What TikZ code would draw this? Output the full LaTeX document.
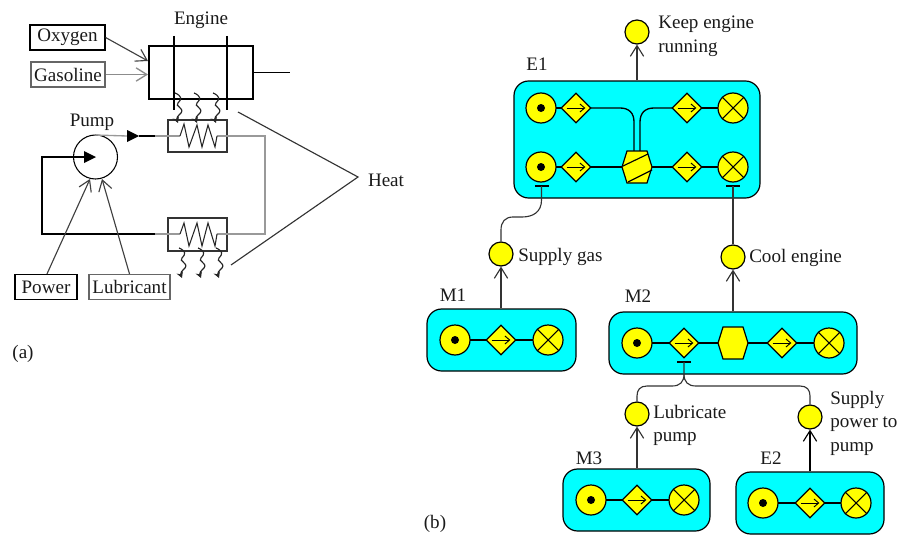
\documentclass[tikz,border=0pt]{standalone}
\usepackage{fontspec}
\setmainfont{Liberation Serif}
\usetikzlibrary{arrows.meta,shapes.geometric}
\definecolor{txt}{HTML}{1A1A1A}
\definecolor{pipegray}{HTML}{999999}
\definecolor{fbox}{HTML}{00FFFF}
\definecolor{fyel}{HTML}{FFFF00}
\tikzset{
  lab/.style={inner sep=0pt,text=txt,yshift=-1.1pt,font=\fontsize{14.3pt}{16pt}\selectfont},
  leftlab/.style={lab,anchor=west,align=left,font=\fontsize{14.3pt}{17.6pt}\selectfont},
  resbox/.style={draw=#1,line width=.9pt,inner sep=0pt,minimum height=25*0.75pt,lab,yshift=1.1pt},
  resbox/.default=black,
  ln/.style={line width=.85pt,draw=black},
  lnk/.style={line width=1pt,draw=black},
  pipe/.style={line width=1pt,draw=pipegray},
  barb/.style={-{Straight Barb[length=8pt,width=10pt]}},
  funcbox/.style={draw=black,line width=.9pt,fill=fbox,rounded corners=11pt,inner sep=0pt},
  goalc/.style={circle,draw=black,line width=.9pt,fill=fyel,minimum size=24*0.75pt,inner sep=0pt},
  portc/.style={circle,draw=black,line width=.9pt,fill=fyel,minimum size=30*0.75pt,inner sep=0pt},
  dotc/.style={circle,fill=black,minimum size=8*0.75pt,inner sep=0pt},
  diac/.style={diamond,draw=black,line width=.9pt,fill=fyel,minimum size=30*0.75pt,inner sep=0pt},
  hexc/.style={minimum size=30*0.75pt,inner sep=0pt},
  hexpath/.style={draw=black,line width=.9pt,fill=fyel},
  hxbox/.style={draw=black!80,line width=.8pt,inner sep=0pt,minimum width=59*0.75pt,minimum height=32*0.75pt},
  engbox/.style={draw=black,line width=.9pt,inner sep=0pt,minimum width=104*0.75pt,minimum height=53*0.75pt},
  pumpc/.style={circle,draw=black,line width=.8pt,minimum size=44*0.75pt,inner sep=0pt},
  wavy/.style={line width=.85pt,draw=black!85,-{Stealth[length=4.5pt,width=5pt]}},
  tbar/.style={line width=.9pt,draw=black},
  ctl/.style={line width=.85pt,draw=black!80}
}
\newcommand{\srcp}[3]{\node[portc] (#1) at (#2,#3) {}; \node[dotc] (#1-d) at (#2,#3) {};}
\newcommand{\diap}[3]{\node[diac] (#1) at (#2,#3) {}; \draw[line width=.7pt,-{Straight Barb[length=3.5pt,width=6pt]}] ([xshift=-7pt]#1.center) -- ([xshift=7pt]#1.center);}
\newcommand{\snkp}[3]{\node[portc] (#1) at (#2,#3) {}; \draw[line width=.8pt] (#1.45) -- (#1.225) (#1.135) -- (#1.315);}
\newcommand{\hexp}[3]{\node[hexc] (#1) at (#2,#3) {}; \draw[hexpath] (#2-10,#3-16) -- (#2+10,#3-16) -- (#2+15,#3) -- (#2+10,#3+16) -- (#2-10,#3+16) -- (#2-15,#3) -- cycle;}
\newcommand{\wav}[2]{\draw[wavy] (#1,#2) .. controls (#1+7,#2+3) and (#1+7,#2+6) .. (#1+3,#2+10) .. controls (#1-1,#2+13) and (#1+10,#2+15) .. (#1+6,#2+20) .. controls (#1+3,#2+23) and (#1+1,#2+25) .. (#1+3,#2+30);}
\begin{document}
\begin{tikzpicture}[x=0.75pt,y=-0.75pt]
\useasboundingbox (0,0) rectangle (902,535);
% ---------- (a) ----------
\node[engbox] (engine) at (201,72.5) {};
\node[lab] (englab) at (201,19) {Engine};
\coordinate (rodAt) at (174,36); \coordinate (rodAb) at (174,110);
\coordinate (rodBt) at (227,36); \coordinate (rodBb) at (227,110);
\draw[ln,line width=.9pt] (rodAt) -- (rodAb);
\draw[ln,line width=.9pt] (rodBt) -- (rodBb);
\coordinate (shaft) at (290,72.5);
\draw[ln] (engine.east) -- (shaft);
\node[resbox,minimum width=75*0.75pt] (oxy) at (67.5,37.5) {Oxygen};
\node[resbox=black!60,minimum width=74*0.75pt] (gas) at (68,74.5) {Gasoline};
\coordinate (oxyin) at (148,61); \coordinate (gasin) at (148,74.5);
\draw[ln,barb,draw=black!75] (oxy.east) -- (oxyin);
\draw[pipe,barb,draw=black!45] (gas.east) -- (gasin);
\node[hxbox] (hxa) at (197.5,136) {};
\node[hxbox,minimum height=33*0.75pt] (hxb) at (197.5,234.5) {};
\node[pumpc] (pump) at (95.5,157) {};
\node[lab] (pumplab) at (92,121) {Pump};
\coordinate (ptop) at (95,135);
\coordinate (rt) at (265,136); \coordinate (rb) at (265,234);
\coordinate (za) at (217,136); \coordinate (zb) at (217,234);
\coordinate (za0) at (180,136); \coordinate (zb0) at (180,234);
\draw[pipe] (ptop) -- (127,136);
\draw[pipe] (155,136) -- (za0);
\draw[ln] (139,136) -- (155,136);
\fill (127,130) -- (139,136) -- (127,142) -- cycle;
\draw[pipe] (za) -- (rt) -- (rb) -- (zb);
\draw[pipe] (zb0) -- (155,234);
\coordinate (pl) at (42,234); \coordinate (pu) at (42,157);
\draw[ln] (155,234) -- (pl) -- (pu) -- (84,157);
\fill (84,151) -- (96,157) -- (84,163) -- cycle;
\draw[line width=.8pt,draw=black!85] (za0) -- (184,124) -- (189,147) -- (197,125) -- (202,147) -- (208,125) -- (215,147) -- (za);
\draw[line width=.8pt,draw=black!85] (zb0) -- (184,223) -- (189,246) -- (197,223) -- (202,246) -- (208,223) -- (215,246) -- (zb);
\wav{175}{93}\wav{194}{93}\wav{213}{93}
\wav{179}{248}\wav{198}{248}\wav{216}{248}
\node[resbox,minimum width=62*0.75pt] (power) at (46,287) {Power};
\node[resbox=black!60,minimum width=81*0.75pt] (lub) at (129.5,287) {Lubricant};
\coordinate (pwt) at (90,179); \coordinate (lbt) at (102,179);
\draw[ln,barb,draw=black!75] ([xshift=0.75pt]power.north) -- (pwt);
\draw[ln,barb,draw=black!75] (lub.north) -- (lbt);
\node[lab] (heat) at (386,179) {Heat};
\coordinate (hj) at (358,177);
\coordinate (ha) at (238,112); \coordinate (hb) at (231,265);
\draw[ln,draw=black!80] (ha) -- (hj) -- (hb);
\node[lab] (alab) at (23,352) {(a)};
% ---------- (b) ----------
\node[funcbox,minimum width=246*0.75pt,minimum height=117*0.75pt] (E1) at (637,139.5) {};
\node[funcbox,minimum width=149*0.75pt,minimum height=62*0.75pt] (M1) at (501.5,340) {};
\node[funcbox,minimum width=248*0.75pt,minimum height=62*0.75pt] (M2) at (733,343) {};
\node[funcbox,minimum width=147*0.75pt,minimum height=62*0.75pt] (M3) at (636.5,500) {};
\node[funcbox,minimum width=148*0.75pt,minimum height=62*0.75pt] (E2) at (810,503) {};
\node[lab] (E1l) at (537,63) {E1};
\node[lab] (M1l) at (453,294) {M1};
\node[lab] (M2l) at (638,295) {M2};
\node[lab] (M3l) at (589,457) {M3};
\node[lab] (E2l) at (771,457) {E2};
% E1 internals
\draw[lnk] (591,108) -- (620,108) .. controls (629,108) and (634,113) .. (634,122) -- (634,151);
\draw[lnk] (672,108) -- (654,108) .. controls (645,108) and (640,113) .. (640,122) -- (640,151);
\draw[lnk] (541,108) -- (576,108) (687,108) -- (733,108) (541,167) -- (733,167);
\srcp{a1}{541}{108}\diap{a2}{576}{108}\diap{a3}{687}{108}\snkp{a4}{733}{108}
\srcp{b1}{541}{167}\diap{b2}{576}{167}\hexp{b3}{637}{167}\diap{b4}{687}{167}\snkp{b5}{733}{167}
\draw[ln] (623,166) -- (648,154) (628,182) -- (652,170);
% M1
\draw[lnk] (455,340) -- (548,340);
\srcp{c1}{455}{340}\diap{c2}{501}{340}\snkp{c3}{548}{340}
% M2
\draw[lnk] (637,343) -- (829,343);
\srcp{d1}{637}{343}\diap{d2}{684}{343}\hexp{d3}{733}{343}\diap{d4}{782}{343}\snkp{d5}{829}{343}
% M3
\draw[lnk] (591,500) -- (684,500);
\srcp{e1}{591}{500}\diap{e2}{637}{500}\snkp{e3}{684}{500}
% E2
\draw[lnk] (763,503) -- (856,503);
\srcp{f1}{763}{503}\diap{f2}{810}{503}\snkp{f3}{856}{503}
% goals
\node[goalc] (gKeep) at (637,32) {};
\node[goalc] (gGas) at (501,254) {};
\node[goalc] (gCool) at (733,257) {};
\node[goalc] (gLub) at (637,414) {};
\node[goalc] (gPow) at (810,417) {};
\node[leftlab] (tKeep) at (658,35) {Keep engine\\running};
\node[leftlab] (tGas) at (518,255) {Supply gas};
\node[leftlab] (tCool) at (749,256) {Cool engine};
\node[leftlab] (tLub) at (653,424) {Lubricate\\pump};
\node[leftlab] (tPow) at (830,421.5) {Supply\\power to\\pump};
\node[lab] (blab) at (435,522) {(b)};
% connectors
\draw[ctl,barb] (E1.north) -- (gKeep.south);
\draw[ctl,barb] (M1.north -| gGas) -- (gGas.south);
\draw[ctl,barb] (M2.north) -- (gCool.south);
\draw[ctl,barb] (M3.north -| gLub) -- (gLub.south);
\draw[ctl,barb,draw=black] (E2.north) -- (gPow.south);
% T-bar links
\coordinate (tA) at (541.5,186); \coordinate (tB) at (733,186); \coordinate (tC) at (684,362);
\draw[tbar] (535,186) -- (549,186);
\draw[tbar] (726,186) -- (740,186);
\draw[tbar] (677,362) -- (691,362);
\draw[ctl] (tA) -- (541.5,200) .. controls (541.5,212) and (533,217) .. (522,217) -- (513,217) .. controls (505,217) and (501,222) .. (501,230) -- (gGas.north);
\draw[ctl] (tB) -- (gCool.north);
\draw[ctl] (tC) -- (684,374) .. controls (684,382) and (680,386) .. (672,386) -- (647,386) .. controls (640,386) and (637,390) .. (637,396) -- (gLub.north);
\draw[ctl] (684,374) .. controls (684,382) and (688,386) .. (696,386) -- (800,386) .. controls (807,386) and (810,390) .. (810,396) -- (gPow.north);
\end{tikzpicture}
\end{document}
